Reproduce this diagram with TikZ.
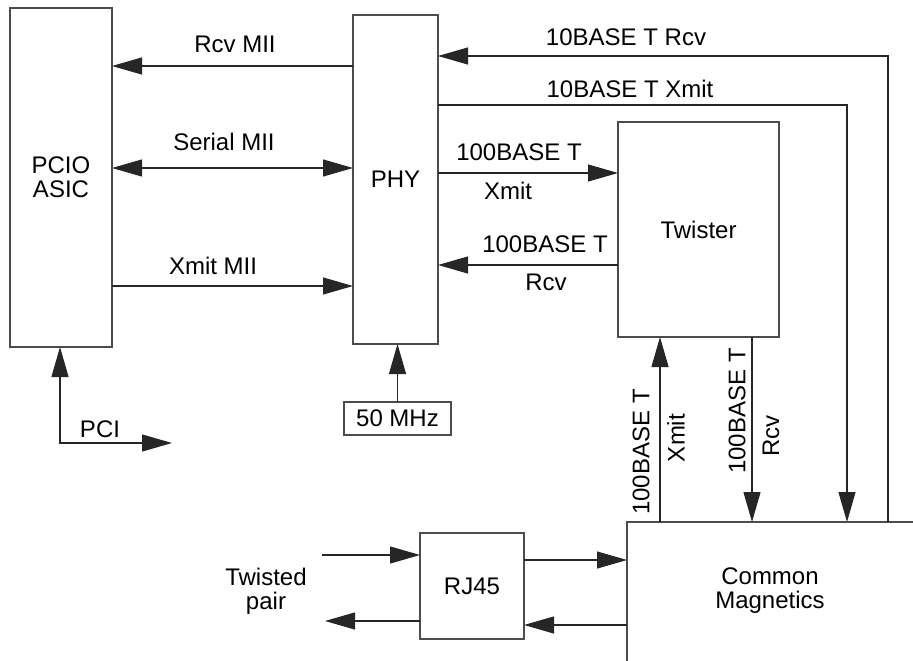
\documentclass[tikz,border=0pt]{standalone}
\usepackage{fontspec}
\setmainfont{Liberation Sans}
\usetikzlibrary{arrows.meta}
\newcommand\dfont{\fontsize{24}{24}\selectfont}
\begin{document}
\begin{tikzpicture}[x=1pt,y=-1pt,
  bigtri/.tip={Triangle[length=30pt,width=17pt]},
  box/.style={draw=black!70, line width=1.1pt, inner sep=0pt, outer sep=0pt, align=center, font=\dfont},
  boxline/.style={draw=black!70, line width=1.1pt},
  conn/.style={draw=black!85, line width=1.1pt},
  arr/.style={conn, -bigtri},
  biarr/.style={conn, bigtri-bigtri},
  lbl/.style={inner sep=0pt, font=\dfont, anchor=base},
  rlbl/.style={inner sep=0pt, font=\dfont, rotate=90, anchor=center}]
\useasboundingbox (0,0) rectangle (913,661);
% boxes
\node[box, minimum width=102pt, minimum height=339pt] (pcio) at (61,177.5) {PCIO\\ASIC};
\node[box, minimum width=85pt, minimum height=329pt] (phy) at (395.5,179.5) {PHY};
\node[box, minimum width=161pt, minimum height=215pt] (tw) at (698.5,229.5) {Twister};
\node[box, minimum width=107pt, minimum height=33pt] (clk) at (397.5,418.5) {50 MHz};
\node[box, minimum width=104pt, minimum height=106pt] (rj) at (472,586) {RJ45};
\node[box, draw=none, minimum width=286pt, minimum height=138pt] (mag) at (770,591) {Common\\Magnetics};
\draw[boxline] ([yshift=-5pt]mag.south west) -- (mag.north west) -- (mag.north east);
% coordinates
\coordinate (r10) at (888,56);
\coordinate (x10) at (847,105);
\coordinate (pci) at (172,443);
\coordinate (tpin) at (322,555);
\coordinate (tpout) at (325,621);
% connectors
\draw[arr] (phy.west |- 0,66) -- (pcio.east |- 0,66);
\draw[biarr] (pcio.east |- 0,168) -- (phy.west |- 0,168);
\draw[arr] (pcio.east |- 0,286) -- (phy.west |- 0,286);
\draw[arr] (mag.north -| r10) -- (r10) -- (phy.east |- r10);
\draw[arr] (phy.east |- x10) -- (x10) -- (mag.north -| x10);
\draw[arr] (phy.east |- 0,173) -- (tw.west |- 0,173);
\draw[arr] (tw.west |- 0,265) -- (phy.east |- 0,265);
\draw[arr] (mag.north -| 660,0) -- (tw.south -| 660,0);
\draw[arr] (tw.south -| 752,0) -- (mag.north -| 752,0);
\draw[biarr] (pcio.south -| 60,0) |- (pci);
\draw[arr] (clk.north) -- (clk.north |- phy.south);
\draw[arr] (tpin) -- (rj.west |- tpin);
\draw[arr] (rj.west |- tpout) -- (tpout);
\draw[arr] (rj.east |- 0,560) -- (mag.west |- 0,560);
\draw[arr] (mag.west |- 0,625) -- (rj.east |- 0,625);
% labels
\node[lbl] (lrcvmii) at (235,53) {Rcv MII};
\node[lbl] (lserial) at (224,150) {Serial MII};
\node[lbl] (lxmitmii) at (213,274) {Xmit MII};
\node[lbl] (l10rcv) at (626,46) {10BASE T Rcv};
\node[lbl] (l10xmit) at (630,97) {10BASE T Xmit};
\node[lbl] (l100xa) at (519,160) {100BASE T};
\node[lbl] (l100xb) at (508,199) {Xmit};
\node[lbl] (l100ra) at (545,252) {100BASE T};
\node[lbl] (l100rb) at (546,290) {Rcv};
\node[lbl] (lpci) at (100,437) {PCI};
\node[rlbl] (lvxa) at (641,452) {100BASE T};
\node[rlbl] (lvxb) at (676,438) {Xmit};
\node[rlbl] (lvra) at (737,411) {100BASE T};
\node[rlbl] (lvrb) at (771,436) {Rcv};
\node[lbl, anchor=center, align=center] (ltp) at (266,591) {Twisted\\pair};
\end{tikzpicture}
\end{document}
